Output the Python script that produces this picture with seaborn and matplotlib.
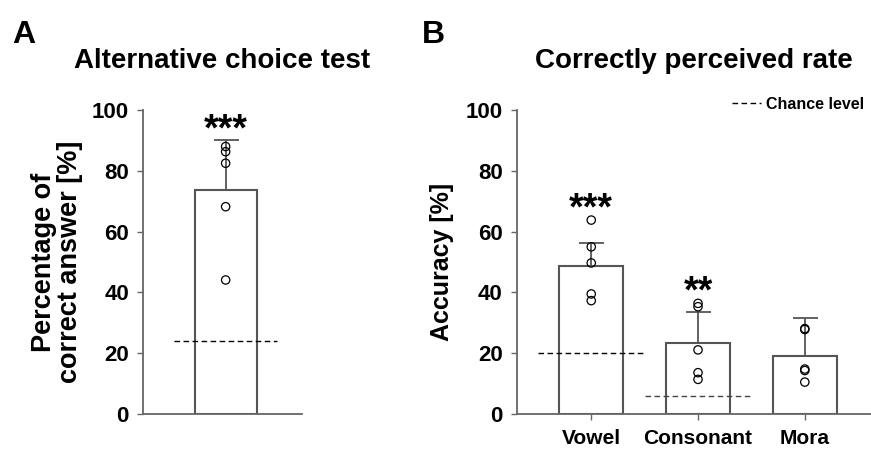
import numpy as np
import pandas as pd
import matplotlib
matplotlib.use("Agg")
import matplotlib.pyplot as plt
import seaborn as sns

# panel A: alternative choice test
a_points = [44.1, 68.2, 82.5, 86.3, 88.0]
a_mean = 73.8
a_err = 16.2
a_chance = 24.0

# panel B: correctly perceived rate
b_cats = ["Vowel", "Consonant", "Mora"]
b_means = [48.8, 23.3, 19.1]
b_errs = [7.6, 10.4, 12.4]
b_points = {
    "Vowel": [63.8, 55.0, 49.7, 39.5, 37.3],
    "Consonant": [36.4, 35.3, 21.1, 13.6, 11.4],
    "Mora": [28.1, 27.8, 14.8, 14.3, 10.5],
}
b_chance = [20.0, 6.0, None]
b_stars = ["***", "**", ""]

sns.set_style("white")
plt.rcParams["font.family"] = ["Liberation Sans", "DejaVu Sans"]
plt.rcParams["font.weight"] = "bold"
plt.rcParams["text.color"] = "black"
plt.rcParams["axes.labelcolor"] = "black"
plt.rcParams["xtick.labelcolor"] = "black"
plt.rcParams["ytick.labelcolor"] = "black"

fig = plt.figure(figsize=(8.71, 4.51), dpi=100)
ax_a = fig.add_axes([0.164, 0.082, 0.183, 0.674])
ax_b = fig.add_axes([0.593, 0.082, 0.407, 0.674])

edge = "#555555"
spine_c = "#666666"


def style_axis(ax):
    sns.despine(ax=ax)
    for s in ["left", "bottom"]:
        ax.spines[s].set_color(spine_c)
        ax.spines[s].set_linewidth(1.3)
    ax.set_ylim(0, 100)
    ax.set_yticks([0, 20, 40, 60, 80, 100])
    ax.tick_params(axis="y", which="both", left=True, length=4, width=1,
                   color=spine_c, labelsize=16, pad=6)
    for lab in ax.get_yticklabels():
        lab.set_fontweight("bold")


def draw_points(ax, df):
    n0 = len(ax.collections)
    sns.stripplot(data=df, x="cat", y="val", jitter=False, ax=ax, size=6,
                  color="white", edgecolor="black", linewidth=0.9, zorder=4)
    for c in ax.collections[n0:]:
        c.set_facecolor("none")
        c.set_edgecolor("black")


# ---- panel A
df_a = pd.DataFrame({"cat": [""], "val": [a_mean]})
sns.barplot(data=df_a, x="cat", y="val", ax=ax_a, width=0.6, color="white",
            edgecolor=edge, linewidth=1.5, errorbar=None)
ax_a.errorbar([0], [a_mean], yerr=[[0], [a_err]], fmt="none", ecolor=edge,
              elinewidth=1.3, capsize=9, capthick=1.3, zorder=3)
draw_points(ax_a, pd.DataFrame({"cat": [""] * len(a_points), "val": a_points}))
ax_a.hlines(a_chance, -0.5, 0.5, colors="black", linestyles=(0, (4, 2.5)),
            linewidth=1.0, zorder=5)
ax_a.text(0, max(max(a_points), a_mean + a_err) - 2.5, "***", ha="center",
          va="bottom", fontsize=27, fontweight="bold")
ax_a.set_xlim(-0.80, 0.74)
style_axis(ax_a)
ax_a.set_xticks([])
ax_a.set_xlabel("")
ax_a.set_ylabel("Percentage of\ncorrect answer [%]", fontsize=19.5,
                fontweight="bold", labelpad=6, linespacing=1.0)
ax_a.set_title("Alternative choice test", fontsize=20, fontweight="bold", pad=30)

# ---- panel B
df_b = pd.DataFrame({"cat": b_cats, "val": b_means})
sns.barplot(data=df_b, x="cat", y="val", ax=ax_b, width=0.6, color="white",
            edgecolor=edge, linewidth=1.5, errorbar=None, order=b_cats)
xs = np.arange(len(b_cats))
ax_b.errorbar(xs, b_means, yerr=[np.zeros(len(b_cats)), b_errs], fmt="none",
              ecolor=edge, elinewidth=1.3, capsize=9, capthick=1.3, zorder=3)
rows = [(c, v) for c in b_cats for v in b_points[c]]
draw_points(ax_b, pd.DataFrame(rows, columns=["cat", "val"]))
first = True
for i, ch in enumerate(b_chance):
    if ch is None:
        continue
    ax_b.hlines(ch, i - 0.5, i + 0.5, colors="black" if i == 0 else "#444444",
                linestyles=(0, (4, 2.5)), linewidth=1.0, zorder=5,
                label="Chance level" if first else None)
    first = False
for i, st in enumerate(b_stars):
    if st:
        top = max(max(b_points[b_cats[i]]), b_means[i] + b_errs[i])
        ax_b.text(i, top - 2.5, st, ha="center", va="bottom", fontsize=27,
                  fontweight="bold")
ax_b.set_xlim(-0.70, 2.62)
style_axis(ax_b)
ax_b.tick_params(axis="x", bottom=True, length=4, width=1, color=spine_c,
                 labelsize=15, pad=7)
for lab in ax_b.get_xticklabels():
    lab.set_fontweight("bold")
ax_b.set_xlabel("")
ax_b.set_ylabel("Accuracy [%]", fontsize=18, fontweight="bold", labelpad=8)
ax_b.set_title("Correctly perceived rate", fontsize=20, fontweight="bold", pad=30)
leg = ax_b.legend(loc="upper right", bbox_to_anchor=(1.02, 1.09), frameon=False,
                  handlelength=1.8, handletextpad=0.3,
                  prop={"size": 11.5, "weight": "bold"})

fig.text(0.014, 0.905, "A", fontsize=23, fontweight="bold")
fig.text(0.484, 0.905, "B", fontsize=23, fontweight="bold")

fig.savefig("out.png", dpi=100)
